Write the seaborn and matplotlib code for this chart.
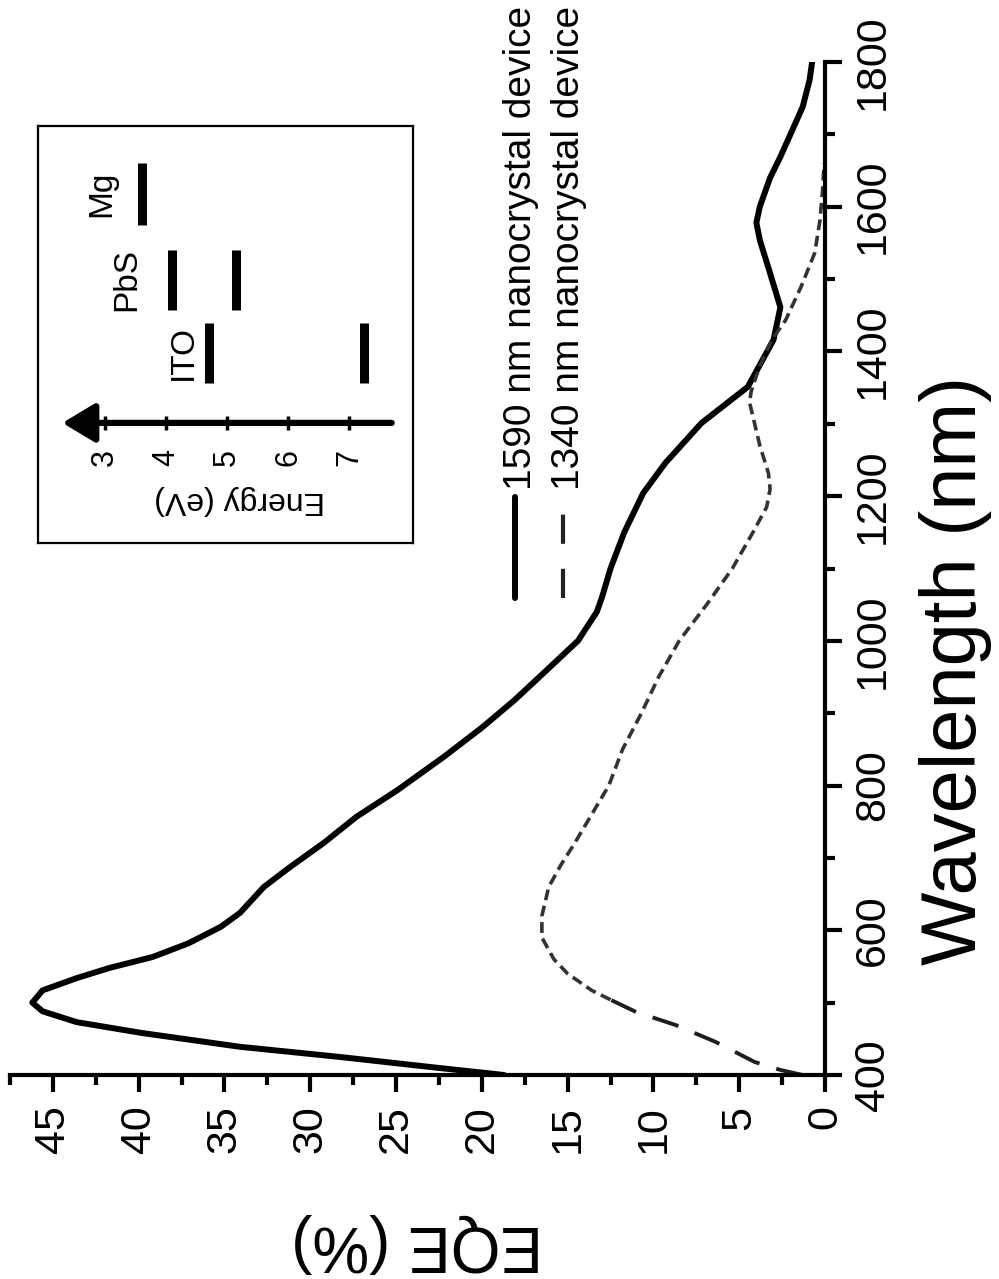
import numpy as np
import pandas as pd
import matplotlib
matplotlib.use("Agg")
import matplotlib.pyplot as plt
import seaborn as sns
from matplotlib.lines import Line2D

# ---------------- data ----------------
wl_1590 = [400, 410, 425, 439, 458, 473, 488, 500, 517, 534, 548, 563, 582, 605, 624,
           660, 687, 721, 757, 794, 840, 880, 918, 960, 1000, 1040, 1060, 1100, 1150,
           1204, 1246, 1301, 1351, 1416, 1461, 1508, 1554, 1578, 1600, 1640, 1669, 1738, 1775, 1800]
eqe_1590 = [18.7, 22.6, 28.3, 34.1, 39.8, 43.6, 45.6, 46.2, 45.6, 43.6, 41.7, 39.2, 37.1, 35.2, 34.1,
            32.7, 31.2, 29.2, 27.3, 24.9, 22.2, 20.0, 18.1, 16.2, 14.4, 13.3, 13.0, 12.5, 11.7,
            10.6, 9.3, 7.2, 4.5, 3.0, 2.6, 3.2, 3.8, 4.0, 3.8, 3.2, 2.6, 1.3, 0.9, 0.75]

wl_1340 = [400, 407, 418, 446, 469, 487, 504, 517, 540, 560, 590, 620, 660, 690, 720, 760,
           800, 850, 900, 950, 1000, 1050, 1100, 1150, 1185, 1210, 1232, 1270, 1300, 1330,
           1345, 1380, 1416, 1443, 1489, 1536, 1580, 1620, 1660]
eqe_1340 = [1.3, 2.6, 4.1, 6.4, 8.7, 11.0, 12.5, 13.6, 15.0, 15.8, 16.5, 16.5, 16.1, 15.4, 14.6, 13.6,
            12.6, 11.8, 10.7, 9.7, 8.5, 6.9, 5.4, 4.2, 3.4, 3.2, 3.3, 3.8, 4.1, 4.4,
            4.3, 3.8, 3.1, 2.3, 1.4, 0.6, 0.3, 0.15, 0.05]

series_labels = ["1590 nm nanocrystal device", "1340 nm nanocrystal device"]

eqe_ticks = [0, 5, 10, 15, 20, 25, 30, 35, 40, 45]
wl_ticks = [400, 600, 800, 1000, 1200, 1400, 1600, 1800]

# inset (energy level diagram)
energy_ticks = [3, 4, 5, 6, 7]
materials = ["ITO", "PbS", "Mg"]
material_levels = {"ITO": [4.7, 7.25], "PbS": [4.1, 5.15], "Mg": [3.6]}

# ---------------- style ----------------
sns.set_style("ticks", rc={"axes.edgecolor": "black", "xtick.color": "black",
                           "ytick.color": "black", "text.color": "black",
                           "axes.labelcolor": "black"})
plt.rcParams["font.family"] = ["Liberation Sans", "DejaVu Sans"]

W, H = 999, 1279
fig = plt.figure(figsize=(W / 100, H / 100), dpi=100)


def fx(px):
    return px / W


def fy(py):
    return 1 - py / H


ax = fig.add_axes([fx(10), fy(1075), (825 - 10) / W, (1075 - 62) / H])

df1 = pd.DataFrame({"wl": wl_1590, "eqe": eqe_1590})
df2 = pd.DataFrame({"wl": wl_1340, "eqe": eqe_1340})
split = 6
sns.lineplot(data=df1, x="eqe", y="wl", sort=False, estimator=None, ax=ax,
             color="black", lw=4.3)
sns.lineplot(data=df2.iloc[:split + 1], x="eqe", y="wl", sort=False, estimator=None, ax=ax,
             color="#1e1e1e", lw=2.8, linestyle=(0, (7, 4.5)))
sns.lineplot(data=df2.iloc[split:], x="eqe", y="wl", sort=False, estimator=None, ax=ax,
             color="#333333", lw=2.6, linestyle=(0, (3, 1.6)))

ax.set_xlim(46.9, 0)
ax.set_ylim(400, 1800)
ax.spines["left"].set_visible(False)
ax.spines["top"].set_visible(False)
for s in ("bottom", "right"):
    ax.spines[s].set_linewidth(3)
    ax.spines[s].set_color("black")
ax.yaxis.tick_right()
ax.set_xticks(eqe_ticks)
ax.set_xticks([t + 2.5 for t in eqe_ticks], minor=True)
ax.set_yticks(wl_ticks)
ax.set_yticks([t + 100 for t in wl_ticks[:-1]], minor=True)
ax.tick_params(which="major", direction="out", length=12, width=3, labelsize=31,
               color="black", labelcolor="black")
ax.tick_params(which="minor", direction="out", length=7, width=3, color="black")
ax.tick_params(axis="x", which="major", pad=10, labelrotation=90)
ax.tick_params(axis="y", which="major", pad=8, labelrotation=90)
for t in ax.get_yticklabels():
    t.set_va("center")

ax.set_xlabel("EQE (%)", fontsize=46, rotation=180)
ax.xaxis.set_label_coords(0.5, -0.166)
ax.xaxis.label.set_va("center")
ax.set_ylabel("Wavelength (nm)", fontsize=56, rotation=90)
ax.yaxis.set_label_position("right")
ax.yaxis.label.set_rotation_mode("anchor")
ax.yaxis.label.set_va("center")
ax.yaxis.label.set_ha("center")
ax.yaxis.set_label_coords((955 - 10) / 815, (1075 - 670) / 1013)

# manual legend (rotated)
leg_styles = [dict(color="black", lw=4.3), dict(color="#222222", lw=3.0, linestyle=(0, (7, 6)))]
for i, (lab, st) in enumerate(zip(series_labels, leg_styles)):
    lx = 515 + 48 * i
    fig.add_artist(Line2D([fx(lx), fx(lx)], [fy(598), fy(497)], transform=fig.transFigure, **st))
    fig.text(fx(lx + 16), fy(490), lab, rotation=90, rotation_mode="anchor",
             ha="left", va="baseline", fontsize=28)

# inset
ax_in = fig.add_axes([fx(38), fy(543), (413 - 38) / W, (543 - 126) / H])
ax_in.set_xlim(1.90, 8.05)
ax_in.set_ylim(0, 1)
ax_in.set_xticks([])
ax_in.set_yticks([])
for s in ax_in.spines.values():
    s.set_linewidth(1.6)
    s.set_color("black")

axis_y = 0.288
ax_in.annotate("", xy=(2.3, axis_y), xytext=(7.7, axis_y),
               arrowprops=dict(arrowstyle="-|>,head_length=0.5,head_width=0.3",
                               lw=4.5, color="black", mutation_scale=40, shrinkA=0, shrinkB=0))
ax_in.scatter(energy_ticks, [axis_y] * len(energy_ticks), marker="|", s=90, color="black",
              linewidths=2.5, zorder=3)
for e in energy_ticks:
    ax_in.text(e, 0.206, str(e), rotation=90, ha="center", va="center", fontsize=22)
ax_in.text(5.2, 0.103, "Energy (eV)", rotation=180, ha="center", va="center", fontsize=23)

row_span = {"ITO": (0.384, 0.528), "PbS": (0.559, 0.703), "Mg": (0.763, 0.911)}
label_x = {"ITO": 4.28, "PbS": 3.36, "Mg": 2.95}
for m in materials:
    y0, y1 = row_span[m]
    for lev in material_levels[m]:
        ax_in.plot([lev, lev], [y0, y1], color="black", lw=6.5, solid_capstyle="butt")
    ax_in.text(label_x[m], (y0 + y1) / 2, m, rotation=90, ha="center", va="center", fontsize=24)

fig.savefig("out.png", dpi=100)
